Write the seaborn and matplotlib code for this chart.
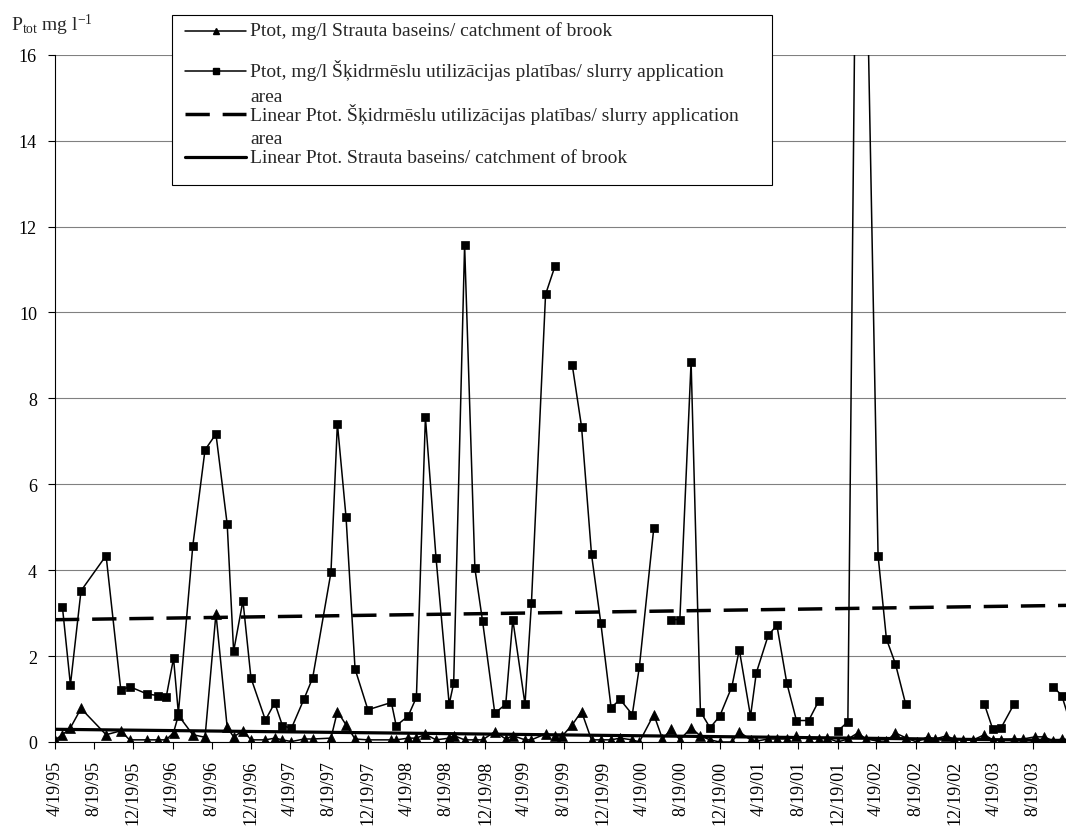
import matplotlib
matplotlib.use("Agg")
import matplotlib.pyplot as plt
from matplotlib.lines import Line2D
from matplotlib.patches import Rectangle
import seaborn as sns
import pandas as pd
import numpy as np

# sampling dates
dates = [
    "1995-04-19", "1995-05-12", "1995-06-06", "1995-07-09", "1995-09-25", "1995-11-10", "1995-12-07",
    "1996-01-30", "1996-03-04", "1996-03-30", "1996-04-22", "1996-05-07", "1996-06-21", "1996-07-29",
    "1996-09-01", "1996-10-06", "1996-10-26", "1996-11-24", "1996-12-19",
    "1997-02-02", "1997-03-03", "1997-03-27", "1997-04-24", "1997-06-02", "1997-06-29", "1997-08-25",
    "1997-09-14", "1997-10-11", "1997-11-08", "1997-12-18",
    "1998-03-01", "1998-03-16", "1998-04-22", "1998-05-18", "1998-06-15", "1998-07-18", "1998-08-28",
    "1998-09-11", "1998-10-15", "1998-11-16", "1998-12-10",
    "1999-01-17", "1999-02-20", "1999-03-14", "1999-04-21", "1999-05-11", "1999-06-24", "1999-07-23",
    "1999-08-15", "1999-09-15", "1999-10-14", "1999-11-14", "1999-12-13",
    "2000-01-14", "2000-02-11", "2000-03-20", "2000-04-11", "2000-05-26", "2000-06-22", "2000-07-19",
    "2000-08-15", "2000-09-19", "2000-10-18", "2000-11-17", "2000-12-17",
    "2001-01-24", "2001-02-16", "2001-03-23", "2001-04-10", "2001-05-17", "2001-06-13", "2001-07-14",
    "2001-08-13", "2001-09-20", "2001-10-21", "2001-11-15", "2001-12-20",
    "2002-01-20", "2002-02-20", "2002-03-18", "2002-04-24", "2002-05-20", "2002-06-17", "2002-07-19",
    "2002-08-22", "2002-09-25", "2002-10-19", "2002-11-21", "2002-12-17",
    "2003-01-14", "2003-02-15", "2003-03-21", "2003-04-16", "2003-05-12", "2003-06-21", "2003-07-18",
    "2003-08-26", "2003-09-24", "2003-10-21", "2003-11-17", "2003-12-15",
]

# Ptot mg/l, catchment of brook
brook = [
    0.05, 0.17, 0.33, 0.78, 0.17, 0.26, 0.05,
    0.05, 0.05, 0.05, 0.22, 0.62, 0.17, 0.11, 2.99, 0.34, 0.12, 0.26, 0.05,
    0.05, 0.09, 0.05, 0.01, 0.07, 0.07, 0.09, 0.71, 0.40, 0.07, 0.05,
    0.05, 0.05, 0.09, 0.09, 0.18, 0.05, 0.09, 0.15, 0.05, 0.05, 0.05,
    0.24, 0.07, 0.15, 0.05, 0.05, 0.19, 0.15, 0.14, 0.40, 0.71, 0.05, 0.05,
    0.05, 0.09, 0.05, 0.00, 0.64, 0.07, 0.30, 0.05, 0.33, 0.14, 0.05, 0.00,
    0.00, 0.24, 0.05, 0.02, 0.07, 0.07, 0.07, 0.14, 0.07, 0.07, 0.10, 0.00,
    0.07, 0.21, 0.07, 0.02, 0.02, 0.21, 0.10, 0.00, 0.12, 0.07, 0.14, 0.07,
    0.05, 0.05, 0.17, 0.05, 0.05, 0.07, 0.07, 0.12, 0.12, 0.02, 0.07, 0.05,
]

# Ptot mg/l, slurry application area (nan = not sampled)
nan = np.nan
slurry = [
    nan, 3.15, 1.33, 3.52, 4.34, 1.20, 1.29,
    1.12, 1.08, 1.04, 1.95, 0.67, 4.57, 6.80, 7.17, 5.07, 2.11, 3.29, 1.49,
    0.51, 0.91, 0.38, 0.32, 1.00, 1.49, 3.95, 7.41, 5.23, 1.70, 0.75,
    0.92, 0.38, 0.60, 1.04, 7.56, 4.29, 0.88, 1.37, 11.57, 4.04, 2.81,
    0.67, 0.88, 2.85, 0.88, 3.23, 10.42, 11.07, nan, 8.78, 7.34, 4.37, 2.77,
    0.80, 0.99, 0.64, 1.75, 4.99, nan, 2.85, 2.85, 8.85, 0.71, 0.33, 0.60,
    1.29, 2.15, 0.60, 1.61, 2.48, 2.72, 1.37, 0.50, 0.50, 0.95, nan, 0.26,
    0.47, 24.0, 19.0, 4.34, 2.40, 1.82, 0.88, nan, nan, nan, nan, nan,
    nan, nan, 0.88, 0.30, 0.33, 0.88, nan, nan, nan, 1.29, 1.08, 0.40,
]

tick_labels = [
    "4/19/95", "8/19/95", "12/19/95", "4/19/96", "8/19/96", "12/19/96", "4/19/97",
    "8/19/97", "12/19/97", "4/19/98", "8/19/98", "12/19/98", "4/19/99", "8/19/99",
    "12/19/99", "4/19/00", "8/19/00", "12/19/00", "4/19/01", "8/19/01", "12/19/01",
    "4/19/02", "8/19/02", "12/19/02", "4/19/03", "8/19/03",
]
y_ticks = [0, 2, 4, 6, 8, 10, 12, 14, 16]

legend_labels = [
    "Ptot, mg/l Strauta baseins/ catchment of brook",
    "Ptot, mg/l Šķidrmēslu utilizācijas platības/ slurry application\narea",
    "Linear Ptot. Šķidrmēslu utilizācijas platības/ slurry application\narea",
    "Linear Ptot. Strauta baseins/ catchment of brook",
]

sns.set_style("ticks")
plt.rcParams["font.family"] = ["Liberation Serif", "DejaVu Serif"]
plt.rcParams["mathtext.fontset"] = "custom"
plt.rcParams["mathtext.rm"] = "Liberation Serif"
plt.rcParams["mathtext.it"] = "Liberation Serif:italic"

df = pd.DataFrame({"date": pd.to_datetime(dates), "brook": brook, "slurry": slurry})
df["seg"] = df["slurry"].isna().cumsum()

W, H = 1066, 829
fig = plt.figure(figsize=(W / 100, H / 100), dpi=100)
ax = fig.add_axes([55 / W, 1 - 743 / H, 1 - 55 / W, (743 - 55.7) / H])

# linear trends
xn = matplotlib.dates.date2num(df["date"])
ok = df["slurry"].notna()
kb = np.polyfit(xn, df["brook"], 1)
ks = np.polyfit(xn[ok], df.loc[ok, "slurry"], 1)
tr = pd.DataFrame({"date": df["date"].iloc[[0, -1]].values})
tn = matplotlib.dates.date2num(tr["date"])
tr["brook"] = np.polyval(kb, tn)
tr["slurry"] = np.polyval(ks, tn)

sns.lineplot(data=tr, x="date", y="slurry", color="black", lw=2.5,
             linestyle=(0, (7, 3.7)), ax=ax, zorder=3)
sns.lineplot(data=tr, x="date", y="brook", color="black", lw=2.3, ax=ax, zorder=3)

sns.lineplot(data=df, x="date", y="brook", estimator=None, color="black", lw=1.1,
             marker="^", markersize=7, markeredgewidth=0.5, markeredgecolor="black",
             ax=ax, zorder=4)
sns.lineplot(data=df[ok], x="date", y="slurry", units="seg", estimator=None,
             color="black", lw=1.1, marker="s", markersize=6, markeredgewidth=0.5,
             markeredgecolor="black", ax=ax, zorder=4)

ax.set_xlim(pd.Timestamp("1995-04-19"), pd.Timestamp("2003-11-30"))
ax.set_ylim(0, 16)
ax.set_yticks(y_ticks)
ax.set_xticks(pd.to_datetime(tick_labels, format="%m/%d/%y"))
ax.set_xticklabels(tick_labels, rotation=90)
ax.set_xlabel("")
ax.set_ylabel("")
ax.yaxis.grid(True, color="#808080", lw=0.8)
ax.set_axisbelow(True)
for s in ["top", "right"]:
    ax.spines[s].set_visible(False)
for s in ["left", "bottom"]:
    ax.spines[s].set_color("black")
    ax.spines[s].set_linewidth(0.8)
ax.tick_params(axis="both", direction="out", length=5, width=0.8, colors="black",
               labelsize=13)
ax.tick_params(axis="x", pad=8)
ax.tick_params(axis="y", pad=8)

fig.text(11 / W, 1 - 31 / H, r"P$_{\mathrm{tot}}$ mg l$^{\mathrm{-1}}$", fontsize=14,
         va="baseline", ha="left")

# legend box, drawn like the spreadsheet legend
def fx(x):
    return x / W

def fy(y):
    return 1 - y / H

fig.add_artist(Rectangle((fx(172), fy(186)), fx(772) - fx(172), fy(16) - fy(186),
                         transform=fig.transFigure, facecolor="white",
                         edgecolor="black", lw=0.8, zorder=5))
handle_y = [32, 72, 115, 158]
base_y = [[36], [77, 102], [121, 144], [163]]
styles = [dict(lw=1.1, marker="^", ms=4.5), dict(lw=1.1, marker="s", ms=4.5),
          dict(lw=2.5, linestyle=(0, (7, 3.7))), dict(lw=2.3)]
for lab, hy, by, st in zip(legend_labels, handle_y, base_y, styles):
    fig.add_artist(Line2D([fx(185), fx(246)], [fy(hy), fy(hy)], color="black",
                          transform=fig.transFigure, zorder=6,
                          **{k: v for k, v in st.items() if k not in ("marker", "ms")}))
    if "marker" in st:
        fig.add_artist(Line2D([fx(216)], [fy(hy)], color="black", marker=st["marker"],
                              ms=st["ms"], transform=fig.transFigure, zorder=7))
    for line, b in zip(lab.split("\n"), by):
        fig.text(fx(250), fy(b), line, fontsize=14, va="baseline", ha="left", zorder=8)

fig.savefig("out.png", dpi=100)
